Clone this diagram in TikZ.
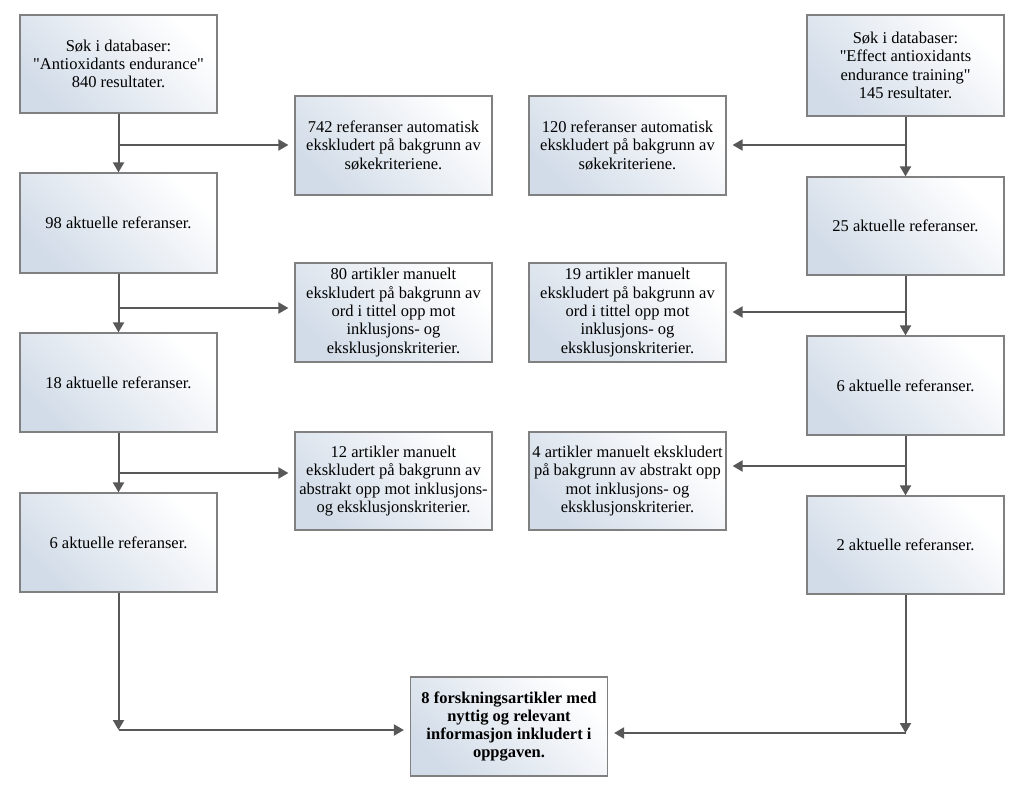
\documentclass[tikz,border=0pt]{standalone}
\usepackage{fontspec}
\setmainfont{Liberation Serif}
\usetikzlibrary{arrows.meta}

\definecolor{boxblue}{RGB}{210,220,232}
\definecolor{boxline}{RGB}{128,128,128}
\definecolor{arrgray}{RGB}{88,88,88}

\tikzset{
  box/.style={draw=boxline, line width=1.2pt, top color=white, bottom color=boxblue,
    shading angle=-45, minimum width=197pt, inner sep=1pt, align=center,
    font=\fontsize{16.5}{18.3}\selectfont},
  arr/.style={draw=arrgray, line width=2pt, -{Triangle[width=11pt,length=10pt]}},
  side/.style={arr, shorten >=6pt}
}

\begin{document}
\begin{tikzpicture}[x=1pt,y=-1pt]

  \useasboundingbox (0,0) rectangle (1024,792);

  %% left column
  \node[box, minimum height=98pt]  (l1) at (118.5, 64)
    {Søk i databaser:\\\textquotedbl Antioxidants endurance\textquotedbl\\840 resultater.};
  \node[box, minimum height=100pt] (l2) at (118.5,223)   {98 aktuelle referanser.};
  \node[box, minimum height=99pt]  (l3) at (118.5,382.5) {18 aktuelle referanser.};
  \node[box, minimum height=99pt]  (l4) at (118.5,542.5) {6 aktuelle referanser.};

  %% right column
  \node[box, minimum height=101pt] (r1) at (905.5, 65.5)
    {Søk i databaser:\\\textquotedbl Effect antioxidants\\endurance training\textquotedbl\\145 resultater.};
  \node[box, minimum height=98pt]  (r2) at (905.5,226)   {25 aktuelle referanser.};
  \node[box, minimum height=99pt]  (r3) at (905.5,385.5) {6 aktuelle referanser.};
  \node[box, minimum height=98pt]  (r4) at (905.5,545)   {2 aktuelle referanser.};

  %% excluded, left
  \node[box, minimum height=99pt] (ml1) at (393.5,145.5)
    {742 referanser automatisk\\ekskludert på bakgrunn av\\søkekriteriene.};
  \node[box, minimum height=99pt] (ml2) at (393.5,312.5)
    {80 artikler manuelt\\ekskludert på bakgrunn av\\ord i tittel opp mot\\inklusjons- og\\eksklusjonskriterier.};
  \node[box, minimum height=98pt] (ml3) at (393.5,481)
    {12 artikler manuelt\\ekskludert på bakgrunn av\\abstrakt opp mot inklusjons-\\og eksklusjonskriterier.};

  %% excluded, right
  \node[box, minimum height=99pt] (mr1) at (627.5,145.5)
    {120 referanser automatisk\\ekskludert på bakgrunn av\\søkekriteriene.};
  \node[box, minimum height=99pt] (mr2) at (627.5,312.5)
    {19 artikler manuelt\\ekskludert på bakgrunn av\\ord i tittel opp mot\\inklusjons- og\\eksklusjonskriterier.};
  \node[box, minimum height=98pt] (mr3) at (627.5,481)
    {4 artikler manuelt ekskludert\\på bakgrunn av abstrakt opp\\mot inklusjons- og\\eksklusjonskriterier.};

  %% result
  \node[box, minimum height=99pt, font=\fontsize{16.5}{18.3}\selectfont\bfseries] (res) at (509,726.5)
    {8 forskningsartikler med\\nyttig og relevant\\informasjon inkludert i\\oppgaven.};

  %% branch points
  \coordinate (bl1) at (118.5,145);
  \coordinate (bl2) at (118.5,308);
  \coordinate (bl3) at (118.5,473);
  \coordinate (br1) at (905.5,145);
  \coordinate (br2) at (905.5,312);
  \coordinate (br3) at (905.5,466);

  %% down the columns
  \draw[arr] (l1) -- (l2);
  \draw[arr] (l2) -- (l3);
  \draw[arr] (l3) -- (l4);
  \draw[arr] (r1) -- (r2);
  \draw[arr] (r2) -- (r3);
  \draw[arr] (r3) -- (r4);

  %% branches
  \draw[side] (bl1) -- (ml1.west |- bl1);
  \draw[side] (bl2) -- (ml2.west |- bl2);
  \draw[side] (bl3) -- (ml3.west |- bl3);
  \draw[side] (br1) -- (mr1.east |- br1);
  \draw[side] (br2) -- (mr2.east |- br2);
  \draw[side] (br3) -- (mr3.east |- br3);

  %% to the result
  \coordinate (cl) at (118.5,730);
  \coordinate (cr) at (905.5,733);
  \draw[arr] (l4) -- (cl);
  \draw[arr] (r4) -- (cr);
  \draw[side] (cl) -- (res.west |- cl);
  \draw[side] (cr) -- (res.east |- cr);

\end{tikzpicture}
\end{document}
